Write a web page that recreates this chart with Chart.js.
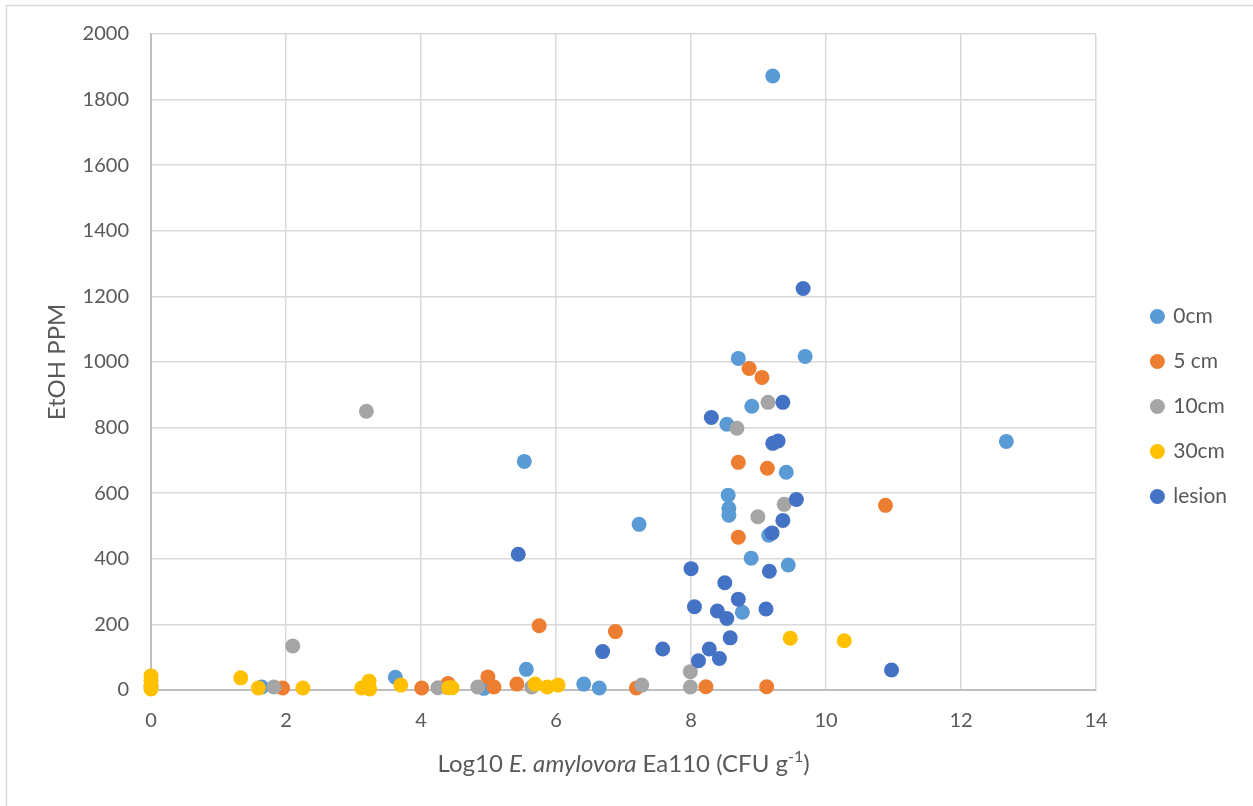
<!DOCTYPE html>
<html>
<head>
<meta charset="utf-8">
<script src="https://cdn.jsdelivr.net/npm/chart.js@4.4.1/dist/chart.umd.min.js"></script>
<style>
  html, body { margin: 0; padding: 0; background: #ffffff; }
  #wrap { width: 1253px; height: 806px; position: relative; }
</style>
</head>
<body>
<div id="wrap"><canvas id="c"></canvas></div>
<script>
// Series names
const seriesNames = ['0cm', '5 cm', '10cm', '30cm', 'lesion'];
const seriesColors = ['#5B9BD5', '#ED7D31', '#A5A5A5', '#FFC000', '#4472C4'];

// 0cm: log10 CFU/g and EtOH ppm
const x0cm = [9.21, 9.69, 8.70, 8.90, 8.53, 9.41, 8.55, 8.56, 8.56, 9.15, 8.89, 9.44, 8.76, 12.67, 5.53, 7.23, 5.56, 6.41, 6.64, 3.62, 4.93, 1.64, 0];
const y0cm = [1872, 1017, 1011, 865, 810, 664, 594, 554, 533, 472, 402, 381, 237, 758, 697, 505, 63, 18, 6, 39, 5, 9, 10];

// 5 cm
const x5cm = [8.86, 9.05, 8.70, 9.13, 8.70, 10.88, 6.88, 5.75, 8.22, 9.12, 7.19, 4.99, 5.08, 5.42, 1.95, 4.01, 4.40, 4.39];
const y5cm = [980, 953, 694, 676, 466, 563, 178, 196, 10, 10, 6, 40, 9, 18, 6, 6, 20, 8];

// 10cm
const x10cm = [3.19, 2.10, 1.82, 4.25, 4.84, 5.64, 7.27, 7.99, 7.99, 9.14, 8.68, 9.38, 8.99];
const y10cm = [850, 134, 9, 7, 9, 9, 15, 56, 9, 877, 798, 566, 528];

// 30cm
const x30cm = [0, 0, 0, 0, 1.33, 1.59, 2.25, 3.12, 3.23, 3.24, 3.70, 4.41, 4.46, 5.69, 5.87, 6.03, 9.47, 10.27];
const y30cm = [43, 30, 15, 3, 37, 6, 6, 6, 27, 3, 15, 7, 7, 18, 9, 15, 158, 150];

// lesion
const xLesion = [9.66, 9.36, 8.30, 9.29, 9.21, 9.56, 9.36, 9.20, 9.16, 8.00, 8.50, 8.70, 8.05, 8.39, 8.53, 9.11, 8.58, 7.58, 8.27, 8.11, 8.42, 10.97, 5.44, 6.69];
const yLesion = [1224, 877, 831, 759, 752, 581, 517, 479, 362, 370, 327, 277, 254, 241, 218, 247, 159, 125, 125, 89, 96, 61, 414, 117];

// Axis ranges and tick steps
const xRange = [0, 14];
const xStep = 2;
const yRange = [0, 2000];
const yStep = 200;

const FONT = "Lato, 'Open Sans', sans-serif";
const TEXT = '#595959';

function pairs(xs, ys) { return xs.map((x, i) => ({ x: x, y: ys[i] })); }

const seriesX = [x0cm, x5cm, x10cm, x30cm, xLesion];
const seriesY = [y0cm, y5cm, y10cm, y30cm, yLesion];

const datasets = seriesNames.map((name, i) => ({
  label: name,
  data: pairs(seriesX[i], seriesY[i]),
  backgroundColor: seriesColors[i],
  borderColor: seriesColors[i],
  pointRadius: 7.5,
  pointHoverRadius: 7.5,
  pointBorderWidth: 0,
  pointStyle: 'circle',
  clip: false,
  // later series are painted above earlier ones
  order: seriesNames.length - i
}));

// White background and the outer chart frame
const framePlugin = {
  id: 'frame',
  beforeDraw(chart) {
    const ctx = chart.ctx;
    ctx.save();
    ctx.fillStyle = '#ffffff';
    ctx.fillRect(0, 0, chart.width, chart.height);
    ctx.strokeStyle = '#D9D9D9';
    ctx.lineWidth = 1.5;
    ctx.strokeRect(6.5, 5.5, chart.width + 10, chart.height + 10);
    ctx.restore();
  }
};

// X axis title with italic species name and superscript exponent
const xTitlePlugin = {
  id: 'xTitle',
  afterDraw(chart) {
    const ctx = chart.ctx;
    const area = chart.chartArea;
    const size = 24;
    const parts = [
      { t: 'Log10 ', f: `${size}px ${FONT}`, dy: 0 },
      { t: 'E. amylovora', f: `italic ${size}px ${FONT}`, dy: 0 },
      { t: ' Ea110 (CFU g', f: `${size}px ${FONT}`, dy: 0 },
      { t: '-1', f: `${Math.round(size * 0.65)}px ${FONT}`, dy: -10 },
      { t: ')', f: `${size}px ${FONT}`, dy: 0 }
    ];
    ctx.save();
    ctx.fillStyle = TEXT;
    ctx.textBaseline = 'alphabetic';
    ctx.textAlign = 'left';
    let total = 0;
    parts.forEach(p => { ctx.font = p.f; p.w = ctx.measureText(p.t).width; total += p.w; });
    let x = (area.left + area.right) / 2 - total / 2;
    const base = 772;
    parts.forEach(p => { ctx.font = p.f; ctx.fillText(p.t, x, base + p.dy); x += p.w; });
    ctx.restore();
  }
};

new Chart(document.getElementById('c'), {
  type: 'scatter',
  data: { datasets: datasets },
  options: {
    responsive: true,
    maintainAspectRatio: false,
    animation: false,
    layout: { padding: { top: 33, bottom: 26, left: 0, right: 16 } },
    plugins: {
      tooltip: { enabled: false },
      legend: {
        position: 'right',
        reverse: true,
        labels: {
          usePointStyle: true,
          boxWidth: 10.6,
          boxHeight: 10.6,
          padding: 24,
          color: TEXT,
          font: { family: FONT, size: 21 }
        }
      }
    },
    scales: {
      x: {
        type: 'linear',
        min: xRange[0],
        max: xRange[1],
        afterFit(s) { s.height = 90; },
        ticks: {
          stepSize: xStep,
          padding: 19,
          color: TEXT,
          font: { family: FONT, size: 20 },
          callback: v => String(v)
        },
        grid: { color: '#D9D9D9', lineWidth: 1.5, drawTicks: false },
        border: { color: '#BFBFBF', width: 2 }
      },
      y: {
        type: 'linear',
        min: yRange[0],
        max: yRange[1],
        afterFit(s) { s.width = 151; },
        ticks: {
          stepSize: yStep,
          padding: 22,
          color: TEXT,
          font: { family: FONT, size: 20 },
          callback: v => String(v)
        },
        grid: { color: '#D9D9D9', lineWidth: 1.5, drawTicks: false },
        border: { color: '#BFBFBF', width: 2 },
        title: {
          display: true,
          text: 'EtOH PPM',
          color: TEXT,
          font: { family: FONT, size: 24 },
          padding: { top: 43, bottom: 0 }
        }
      },
      // spacer between the plot and the legend
      gap: {
        type: 'linear',
        position: 'right',
        display: true,
        afterFit(s) { s.width = 32; },
        ticks: { display: false },
        grid: { display: false, drawTicks: false },
        border: { display: false }
      }
    }
  },
  plugins: [framePlugin, xTitlePlugin]
});
</script>
</body>
</html>
